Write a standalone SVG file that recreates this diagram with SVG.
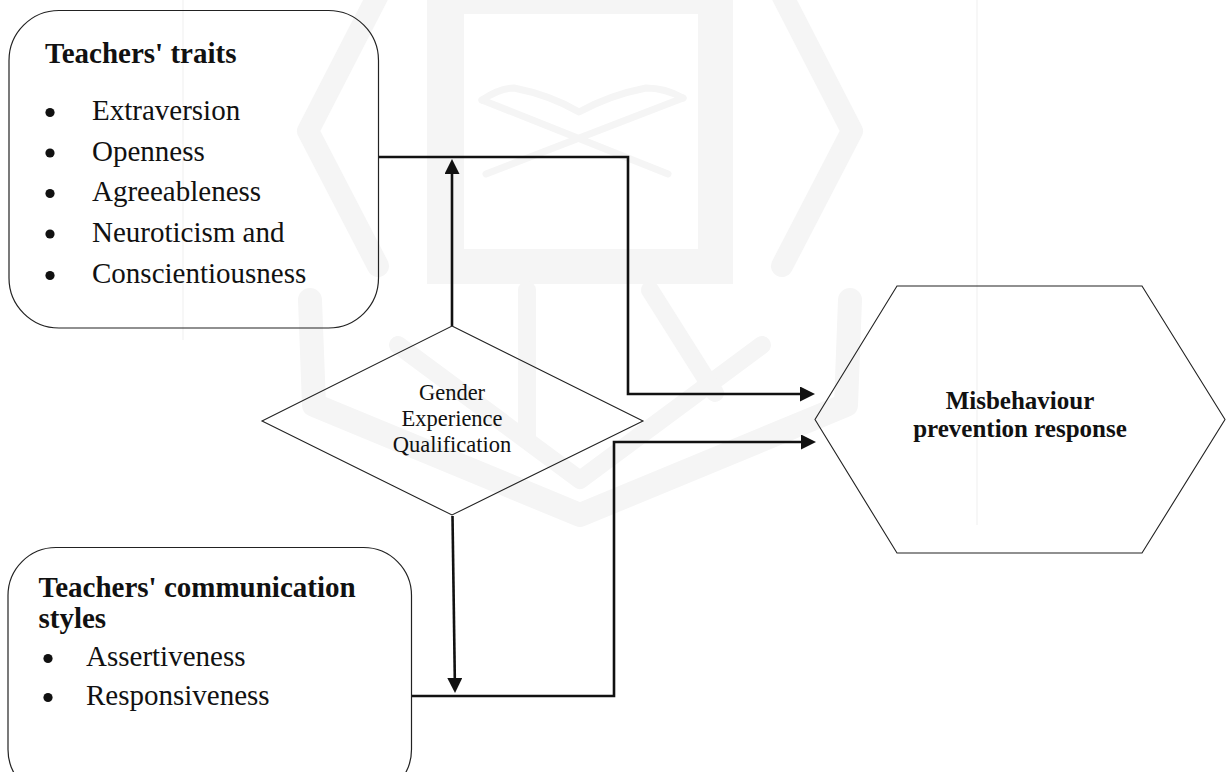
<svg xmlns="http://www.w3.org/2000/svg" width="1227" height="772" viewBox="0 0 1227 772">
  <style>
    .box { fill: none; stroke: #222; stroke-width: 1.2; }
    .shape { fill: none; stroke: #222; stroke-width: 1.1; }
    .link { fill: none; stroke: #111; stroke-width: 2.6; stroke-linejoin: miter; }
    .title { font-family: "Liberation Serif", "Times New Roman", serif; font-weight: bold; font-size: 29px; fill: #111; }
    .item { font-family: "Liberation Serif", "Times New Roman", serif; font-size: 29px; fill: #111; }
    .small { font-family: "Liberation Serif", "Times New Roman", serif; font-size: 22.5px; fill: #111; text-anchor: middle; }
    .hexlabel { font-family: "Liberation Serif", "Times New Roman", serif; font-weight: bold; font-size: 25px; fill: #111; text-anchor: middle; }
    .bullet { fill: #111; }
    .mark { fill: none; stroke: #f5f5f5; stroke-linejoin: round; stroke-linecap: round; }
    .rule { stroke: #efefef; stroke-width: 1; }
  </style>
  <defs>
    <marker id="arrow" markerUnits="userSpaceOnUse" markerWidth="16" markerHeight="16" refX="0" refY="7.5" orient="auto">
      <path d="M0,0 L15,7.5 L0,15 z" fill="#111"/>
    </marker>
  </defs>

  <rect width="1227" height="772" fill="#ffffff"/>

  <!-- faint background emblem -->
  <g id="emblem">
    <path d="M427,-22 H733 V284 H427 Z M464,14 V249 H698 V14 Z" fill="#f5f5f5" fill-rule="evenodd"/>
    <g class="mark" stroke-width="7">
      <path d="M482,100 L668,174"/>
      <path d="M683,98 L486,174"/>
      <path d="M482,100 Q500,88 514,88 Q550,95 579,112 Q610,95 646,88 Q665,88 683,98"/>
    </g>
    <g class="mark" stroke-width="22">
      <path d="M378,-5 L308,131 L378,266"/>
      <path d="M782,-5 L852,131 L782,266"/>
    </g>
    <g class="mark" stroke-width="24">
      <path d="M310,300 L314,405 L580,515 L846,405 L850,300"/>
    </g>
    <g class="mark" stroke-width="18">
      <path d="M398,345 L580,480 L762,345"/>
      <path d="M527,290 L527,440"/>
      <path d="M650,290 L715,393"/>
    </g>
  </g>
  <line class="rule" x1="183" y1="0" x2="183" y2="340"/>
  <line class="rule" x1="977" y1="0" x2="977" y2="525"/>

  <!-- connectors -->
  <g id="connectors">
    <path class="link" d="M378,157 H628 V394 H800" marker-end="url(#arrow)"/>
    <path class="link" d="M452,326 V174" marker-end="url(#arrow)"/>
    <path class="link" d="M412,696 H614 V442 H801" marker-end="url(#arrow)"/>
    <path class="link" d="M452.5,516 L454.8,678" marker-end="url(#arrow)"/>
  </g>

  <!-- personality traits -->
  <g id="traits">
    <rect class="box" x="9" y="10.5" width="369.5" height="317.5" rx="50" ry="50"/>
    <text class="title" x="45" y="63">Teachers' traits</text>
    <circle class="bullet" cx="50" cy="112.5" r="4.6"/>
    <text class="item" x="92" y="120">Extraversion</text>
    <circle class="bullet" cx="50" cy="153" r="4.6"/>
    <text class="item" x="92" y="160.5">Openness</text>
    <circle class="bullet" cx="50" cy="193.5" r="4.6"/>
    <text class="item" x="92" y="201">Agreeableness</text>
    <circle class="bullet" cx="50" cy="234" r="4.6"/>
    <text class="item" x="92" y="241.5">Neuroticism and</text>
    <circle class="bullet" cx="50" cy="275.5" r="4.6"/>
    <text class="item" x="92" y="283">Conscientiousness</text>
  </g>

  <!-- communication styles -->
  <g id="communication">
    <rect class="box" x="8" y="547.5" width="403.5" height="250" rx="48" ry="48"/>
    <text class="title" x="38.5" y="597">Teachers' communication</text>
    <text class="title" x="38.5" y="628">styles</text>
    <circle class="bullet" cx="48" cy="658.5" r="4.6"/>
    <text class="item" x="86" y="666">Assertiveness</text>
    <circle class="bullet" cx="48" cy="697.5" r="4.6"/>
    <text class="item" x="86" y="705">Responsiveness</text>
  </g>

  <!-- moderators -->
  <g id="moderators">
    <polygon class="shape" points="452,326 643,421 452,515 262,421"/>
    <text class="small" x="452" y="400">Gender</text>
    <text class="small" x="452" y="425.5">Experience</text>
    <text class="small" x="452" y="451.5">Qualification</text>
  </g>

  <!-- outcome -->
  <g id="outcome">
    <polygon class="shape" points="897,286 1142,286 1225,419.5 1142,553 897,553 815,419.5"/>
    <text class="hexlabel" x="1020" y="409">Misbehaviour</text>
    <text class="hexlabel" x="1020" y="437">prevention response</text>
  </g>
</svg>
